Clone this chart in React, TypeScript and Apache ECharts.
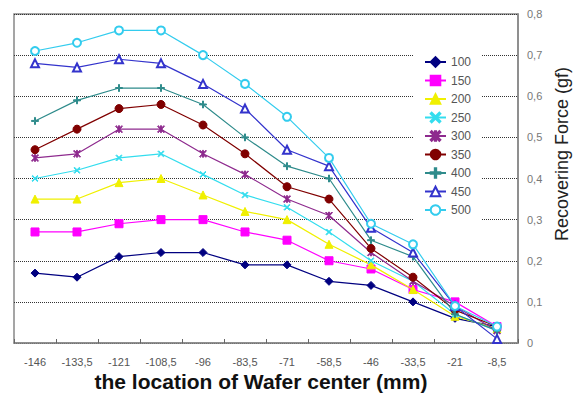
import React, { useEffect, useRef } from "react";
import * as echarts from "echarts";

const categories = ["-146", "-133,5", "-121", "-108,5", "-96", "-83,5", "-71", "-58,5", "-46", "-33,5", "-21", "-8,5"];

const s100 = [0.17, 0.16, 0.21, 0.22, 0.22, 0.19, 0.19, 0.15, 0.14, 0.10, 0.06, 0.04];
const s150 = [0.27, 0.27, 0.29, 0.30, 0.30, 0.27, 0.25, 0.20, 0.18, 0.13, 0.10, 0.04];
const s200 = [0.35, 0.35, 0.39, 0.40, 0.36, 0.32, 0.30, 0.24, 0.19, 0.13, 0.065, 0.035];
const s250 = [0.40, 0.42, 0.45, 0.46, 0.41, 0.36, 0.33, 0.27, 0.20, 0.15, 0.07, 0.03];
const s300 = [0.45, 0.46, 0.52, 0.52, 0.46, 0.41, 0.35, 0.31, 0.22, 0.15, 0.09, 0.03];
const s350 = [0.47, 0.52, 0.57, 0.58, 0.53, 0.46, 0.38, 0.35, 0.23, 0.16, 0.08, 0.04];
const s400 = [0.54, 0.59, 0.62, 0.62, 0.58, 0.50, 0.43, 0.40, 0.25, 0.21, 0.07, 0.03];
const s450 = [0.68, 0.67, 0.69, 0.68, 0.63, 0.57, 0.47, 0.43, 0.28, 0.22, 0.09, 0.01];
const s500 = [0.71, 0.73, 0.76, 0.76, 0.70, 0.63, 0.55, 0.45, 0.29, 0.24, 0.09, 0.04];

const seriesNames = ["100", "150", "200", "250", "300", "350", "400", "450", "500"];
const seriesData = [s100, s150, s200, s250, s300, s350, s400, s450, s500];

const xTitle = "the location of Wafer center (mm)";
const yTitle = "Recovering Force (gf)";

const FONT = "'Liberation Sans', Arial, sans-serif";

const plusPath = "path://M4.3,0 H5.7 V4.3 H10 V5.7 H5.7 V10 H4.3 V5.7 H0 V4.3 H4.3 Z";
const xPath = "path://M0,1 L1,0 L5,4 L9,0 L10,1 L6,5 L10,9 L9,10 L5,6 L1,10 L0,9 L4,5 Z";
const starPath = "path://M0,1 L1,0 L5,4 L9,0 L10,1 L6,5 L10,9 L9,10 L5,6 L1,10 L0,9 L4,5 Z M4.4,0 H5.6 V10 H4.4 Z";

const styles = [
  { color: "#000080", symbol: "diamond", size: 8 },
  { color: "#FF00FF", symbol: "rect", size: 8 },
  { color: "#F0F000", symbol: "triangle", size: 8 },
  { color: "#33DDEE", symbol: xPath, size: 6 },
  { color: "#8E2A8E", symbol: starPath, size: 7 },
  { color: "#800000", symbol: "circle", size: 8 },
  { color: "#2E8B8B", symbol: plusPath, size: 7 },
  { color: "#3333CC", symbol: "emptyTriangle", size: 8 },
  { color: "#33CCEE", symbol: "emptyCircle", size: 8 },
];

export default function App() {
  const ref = useRef<HTMLDivElement>(null);
  useEffect(() => {
    if (!ref.current) return;
    const chart = echarts.init(ref.current, undefined, { renderer: "svg" });
    const series = seriesNames.map((name, i) => ({
      name,
      type: "line",
      data: seriesData[i],
      symbol: styles[i].symbol,
      symbolSize: styles[i].size,
      lineStyle: { color: styles[i].color, width: 1.2 },
      itemStyle: { color: styles[i].color, borderColor: styles[i].color, borderWidth: 1 },
      z: 2 + i,
    }));
    chart.setOption({
      animation: false,
      backgroundColor: "#ffffff",
      textStyle: { fontFamily: FONT },
      grid: {
        left: 14,
        right: 62,
        top: 14,
        bottom: 56,
        show: true,
        borderColor: "#888888",
        borderWidth: 1.5,
        backgroundColor: "#ffffff",
      },
      legend: {
        orient: "vertical",
        left: 414,
        top: 50,
        padding: [6, 10, 6, 10],
        backgroundColor: "#ffffff",
        itemWidth: 21,
        itemHeight: 12,
        itemGap: 6.5,
        textStyle: { fontSize: 12, color: "#555555", fontFamily: FONT },
        data: seriesNames,
      },
      xAxis: {
        type: "category",
        data: categories,
        boundaryGap: true,
        axisLine: { show: true, lineStyle: { color: "#888888", width: 1.5 } },
        axisTick: { show: true, inside: true, length: 4, alignWithLabel: false, lineStyle: { color: "#666666" } },
        axisLabel: { interval: 0, color: "#555555", fontSize: 11, margin: 13, fontFamily: FONT },
        splitLine: { show: false },
      },
      yAxis: {
        type: "value",
        position: "right",
        min: 0,
        max: 0.8,
        interval: 0.1,
        axisLine: { show: true, lineStyle: { color: "#888888", width: 1.5 } },
        axisTick: { show: false },
        axisLabel: {
          color: "#777777",
          fontSize: 11,
          margin: 9,
          fontFamily: FONT,
          formatter: (v: number) => (v === 0 ? "0" : v.toFixed(1).replace(".", ",")),
        },
        splitLine: { show: true, lineStyle: { color: "#333333", type: "dotted", width: 1 } },
      },
      graphic: [
        {
          type: "text",
          x: 261,
          y: 381,
          style: {
            text: xTitle,
            fontSize: 21,
            fontWeight: "bold",
            fontFamily: FONT,
            fill: "#111111",
            align: "center",
            verticalAlign: "middle",
          },
        },
        {
          type: "text",
          x: 562,
          y: 154,
          rotation: Math.PI / 2,
          style: {
            text: yTitle,
            fontSize: 18,
            fontFamily: FONT,
            fill: "#222222",
            align: "center",
            verticalAlign: "middle",
          },
        },
      ],
      series,
    });
    return () => chart.dispose();
  }, []);
  return (
    <div
      ref={ref}
      style={{ position: "absolute", left: 0, top: 0, width: 580, height: 399 }}
    />
  );
}
